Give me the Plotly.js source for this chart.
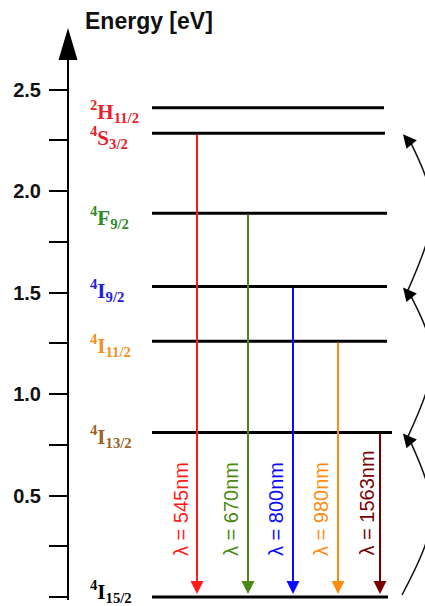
<!DOCTYPE html>
<html><head><meta charset="utf-8">
<script src="https://cdn.plot.ly/plotly-3.0.1.min.js"></script>
<style>html,body{margin:0;padding:0;background:#fff}</style>
</head><body><div id="chart" style="width:425px;height:606px"></div>
<script>
// ---- data ----
const levelNames = ['<sup>2</sup>H<sub>11/2</sub>', '<sup>4</sup>S<sub>3/2</sub>', '<sup>4</sup>F<sub>9/2</sub>',
  '<sup>4</sup>I<sub>9/2</sub>', '<sup>4</sup>I<sub>11/2</sub>', '<sup>4</sup>I<sub>13/2</sub>', '<sup>4</sup>I<sub>15/2</sub>'];
const levelEnergies = [2.41, 2.285, 1.89, 1.53, 1.26, 0.81, 0];
const transitionLevel = [1, 2, 3, 4, 5];           // index into levels (emitting level -> ground)
const transitionLabels = ['λ = 545nm', 'λ = 670nm', 'λ = 800nm', 'λ = 980nm', 'λ = 1563nm'];
const upconvFrom = [6, 5, 3];                        // level indices
const upconvTo = [5, 3, 1];
const yTickVals = [0, 0.25, 0.5, 0.75, 1.0, 1.25, 1.5, 1.75, 2.0, 2.25, 2.5];
const yTickText = ['0', '', '0.5', '', '1.0', '', '1.5', '', '2.0', '', '2.5'];

// ---- style / positions ----
const levelColors = ['#e8202a', '#e8202a', '#2f8a2a', '#2020dd', '#f39020', '#9a6420', '#000000'];
const levelLabelShift = [-4, -4, -4, -4, -4, -4, 6];
const transColors = ['#ff1a1a', '#4a8a14', '#0a0aff', '#ff8c10', '#7a0000'];
const transX = [197, 248, 293, 338, 380];
const transLabelX = [181, 231, 276, 321, 366];
const levelX0 = 152, levelX1 = [384, 385, 387, 387, 387, 392, 388];
const px = 1 / 203; // energy per pixel
const yRange = [-3 * px, 539 * px];

const traces = levelEnergies.map((e, i) => ({
  type: 'scatter', mode: 'lines', x: [levelX0, levelX1[i]], y: [e, e],
  line: {color: '#000', width: 3}, hoverinfo: 'skip', showlegend: false
}));

const annotations = [];
levelNames.forEach((n, i) => annotations.push({
  x: 88, y: levelEnergies[i], xref: 'x', yref: 'y', xanchor: 'left', yanchor: 'middle', yshift: levelLabelShift[i],
  text: '<b>' + n + '</b>', showarrow: false,
  font: {family: 'Liberation Serif', size: 21, color: levelColors[i]}
}));
transitionLevel.forEach((li, k) => {
  annotations.push({
    x: transX[k], y: 0, ax: transX[k], ay: levelEnergies[li], xref: 'x', yref: 'y', axref: 'x', ayref: 'y',
    text: '', showarrow: true, arrowhead: 2, arrowsize: 1.3, arrowwidth: 2, arrowcolor: transColors[k], standoff: 3
  });
  annotations.push({
    x: transLabelX[k], y: 39 * px, xref: 'x', yref: 'y', xanchor: 'center', yanchor: 'bottom',
    text: transitionLabels[k], textangle: -90, showarrow: false,
    font: {family: 'Liberation Sans', size: 20, color: transColors[k]}
  });
});

const shapes = [];
upconvFrom.forEach((lo, k) => {
  const e0 = levelEnergies[lo], e1 = levelEnergies[upconvTo[k]];
  const h = e1 - e0;
  const x0 = k === 0 ? 402 : 407;
  const y0 = k === 0 ? e0 + 2 * px : e0 - 6 * px;
  const path = `M ${x0},${y0} C 440,${e0 + 0.45 * h} 440,${e1 - 0.45 * h} 410,${e1 - 8 * px}`;
  shapes.push({type: 'path', xref: 'x', yref: 'y', path: path, line: {color: '#111', width: 1.5}});
  annotations.push({
    x: 403, y: e1 - 1 * px, ax: 413, ay: e1 - 13 * px, xref: 'x', yref: 'y', axref: 'x', ayref: 'y',
    text: '', showarrow: true, arrowhead: 2, arrowsize: 1.8, arrowwidth: 1.5, arrowcolor: '#000', standoff: 0
  });
});
// axis arrowhead (paper coords)
const pw = 356, ph = 542;
const tipX = (68 - 69) / pw;
shapes.push({type: 'path', xref: 'paper', yref: 'paper', fillcolor: '#000', line: {width: 0},
  path: `M ${tipX},${(600 - 28) / ph} L ${tipX - 9.5 / pw},${(600 - 60) / ph} L ${tipX + 9.5 / pw},${(600 - 60) / ph} Z`});

const layout = {
  width: 425, height: 606, margin: {l: 69, r: 0, t: 58, b: 6},
  paper_bgcolor: '#fff', plot_bgcolor: '#fff', showlegend: false,
  title: {text: 'Energy [eV]', font: {family: 'Liberation Sans', size: 23, weight: 'bold', color: '#111'},
    xref: 'container', yref: 'container', x: 85 / 425, xanchor: 'left', y: 1 - 21 / 606, yanchor: 'middle'},
  xaxis: {range: [69, 425], visible: false, fixedrange: true},
  yaxis: {range: yRange, showline: true, linewidth: 2, linecolor: '#000', ticks: 'outside', ticklen: 18,
    tickwidth: 2, tickcolor: '#000', tickvals: yTickVals, ticktext: yTickText, showgrid: false, zeroline: false,
    tickfont: {family: 'Liberation Sans', size: 20, weight: 'bold', color: '#111'}, ticklabelstandoff: 4, fixedrange: true},
  shapes: shapes, annotations: annotations
};
Plotly.newPlot('chart', traces, layout, {displayModeBar: false, staticPlot: true});
</script></body></html>
